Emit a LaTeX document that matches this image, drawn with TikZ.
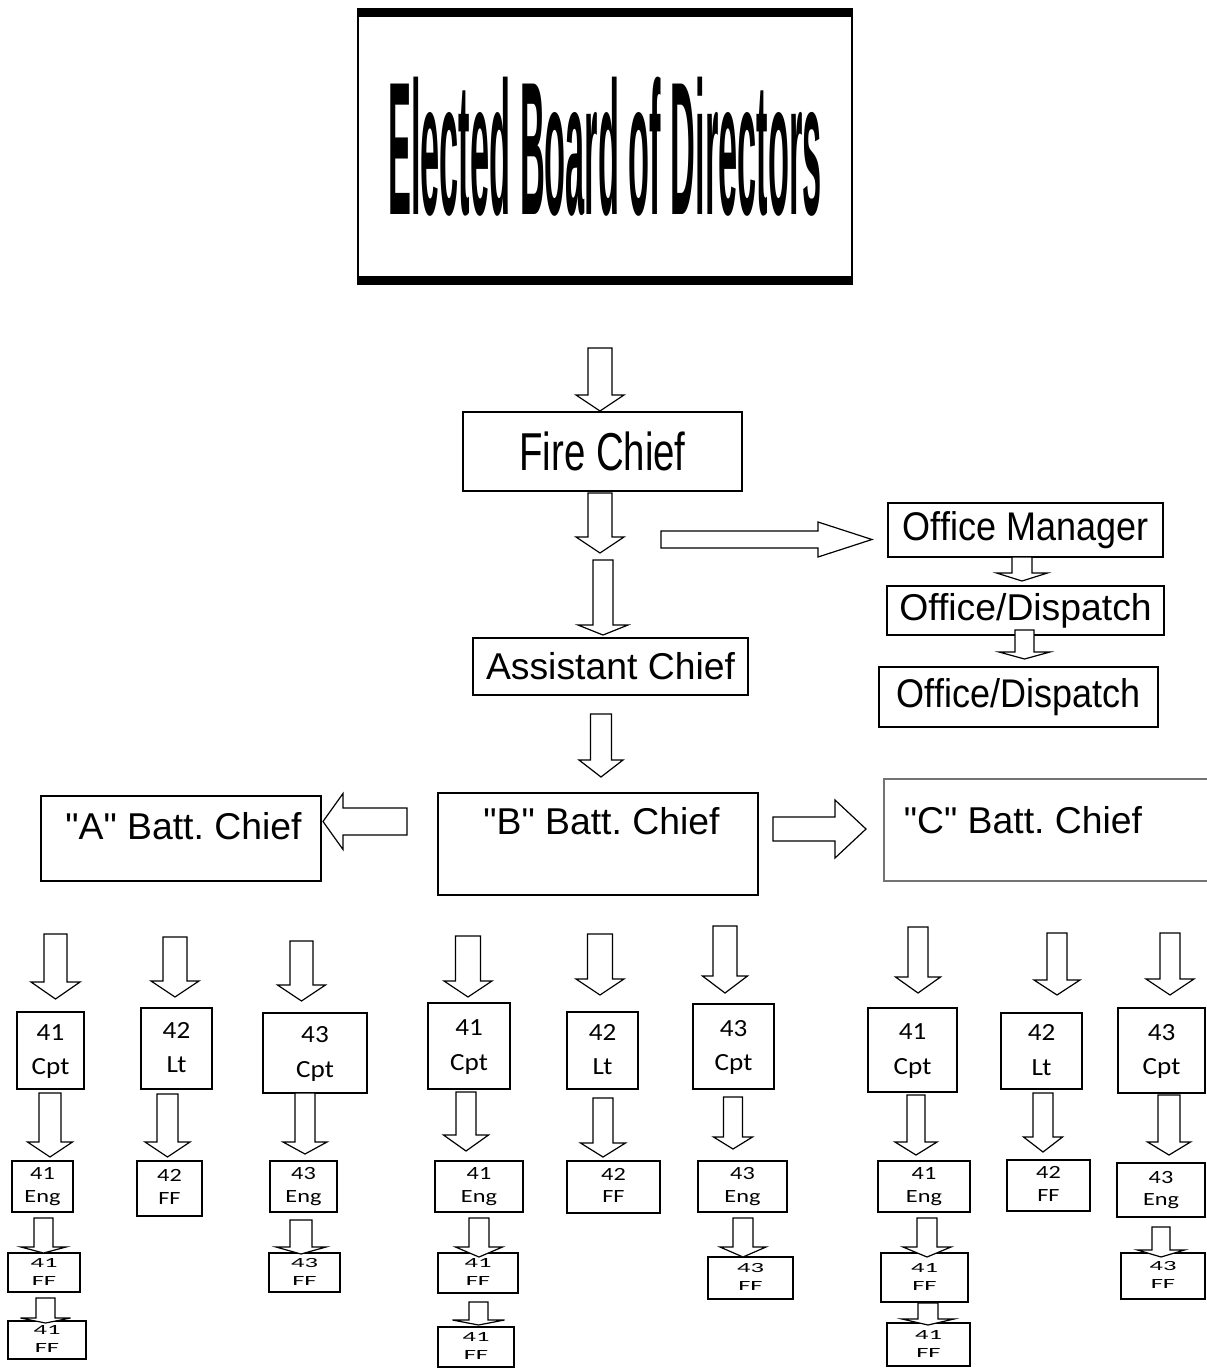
\documentclass[tikz,border=0pt]{standalone}
\usepackage{fontspec}
\usepackage{graphicx}
\setmainfont{Liberation Sans}[Ligatures=TeXOff]
\newfontfamily\carlito{Carlito}
\usetikzlibrary{calc}
\newcommand\px{0.75pt}
\newcommand\twoline[3]{\scalebox{#1}[1]{\begin{tabular}{@{}c@{}}#2\\#3\end{tabular}}}
\frenchspacing

\begin{document}
\begin{tikzpicture}[x=0.75pt, y=-0.75pt, line join=miter,
	box/.style={draw, line width=1.1pt, inner sep=0pt},
	blk/.style={draw, fill=white, line width=0.9pt},
	cpt/.style={box, font=\carlito\fontsize{18.5}{26}\selectfont},
	eng/.style={box, font=\carlito\fontsize{14}{17}\selectfont},
	ff/.style={box, font=\carlito\fontsize{10.5}{13.5}\selectfont},
	bc/.style={anchor=base, font=\fontsize{28}{34}\selectfont}]
	\useasboundingbox (0,0) rectangle (1207,1368);

	% board
	\node[box, line width=1pt, minimum width=494*\px, minimum height=275*\px] (board) at (605,146.5)
		{\resizebox{325pt}{103pt}{\bfseries Elected Board of Directors}};
	\fill (board.north west) rectangle ($(board.north east)+(0,9)$);
	\fill ($(board.south west)+(0,-9)$) rectangle (board.south east);

	% chiefs and office
	\node[box, minimum width=279*\px, minimum height=79*\px] (fire) at (602.5,451.5)
		{\scalebox{0.72}[1]{\fontsize{40}{48}\selectfont Fire Chief}};
	\node[box, minimum width=275*\px, minimum height=57*\px, font=\fontsize{28}{34}\selectfont] (asst) at (610.5,666.5) {Assistant Chief};
	\node[box, minimum width=275*\px, minimum height=54*\px] (om) at (1025.5,530)
		{\scalebox{0.9}[1]{\fontsize{30}{36}\selectfont Office Manager}};
	\node[box, minimum width=277*\px, minimum height=49*\px, font=\fontsize{28}{34}\selectfont] (od1) at (1025.5,610.5) {Office/Dispatch};
	\node[box, minimum width=279*\px, minimum height=60*\px] (od2) at (1018.5,697)
		{\scalebox{0.9}[1]{\fontsize{30}{36}\selectfont Office/Dispatch}};

	% battalion chiefs
	\node[box, minimum width=280*\px, minimum height=85*\px] (bcA) at (181,838.5) {};
	\node[box, minimum width=320*\px, minimum height=102*\px] (bcB) at (598,844) {};
	\node[box, draw=black!55, minimum width=331*\px, minimum height=102*\px] (bcC) at (1049.5,830) {};
	\node[bc] (bcAtext) at (183.5,839) {"A" Batt. Chief};
	\node[bc] (bcBtext) at (601.5,834) {"B" Batt. Chief};
	\node[bc] (bcCtext) at (1023,833) {"C" Batt. Chief};

	% companies
	\foreach \n/\x/\y/\w/\h/\a/\b in {A41cpt/50.5/1050.5/67/77/41/Cpt, A42lt/176.5/1048.5/71/81/42/Lt,
		A43cpt/315/1053/104/80/43/Cpt, B41cpt/469/1046/82/86/41/Cpt, B42lt/602.5/1050.5/71/77/42/Lt,
		B43cpt/733.5/1046.5/81/85/43/Cpt, C41cpt/912.5/1050/89/84/41/Cpt, C42lt/1041.5/1051/81/76/42/Lt,
		C43cpt/1161.5/1050.5/87/85/43/Cpt}
		\node[cpt, minimum width=\w*\px, minimum height=\h*\px] (\n) at (\x,\y) {\twoline{1.1}{\a}{\b}};
	\foreach \n/\x/\y/\w/\h/\a/\b in {A41eng/42.5/1186.5/61/51/41/Eng, A42ff/169.5/1188.5/65/55/42/FF,
		A43eng/303.5/1186.5/67/51/43/Eng, B41eng/479/1186.5/88/51/41/Eng, B42ff/613.5/1187/93/52/42/FF,
		B43eng/742.5/1186.5/89/51/43/Eng, C41eng/924/1186.5/92/51/41/Eng, C42ff/1048.5/1185.5/83/51/42/FF,
		C43eng/1161/1190/88/54/43/Eng}
		\node[eng, minimum width=\w*\px, minimum height=\h*\px] (\n) at (\x,\y) {\twoline{1.3}{\a}{\b}};
	\foreach \n/\x/\y/\w/\h/\a in {A41ff/44/1272.5/72/39/41, A43ff/304.5/1272.5/71/39/43, A41ffb/47/1340/78/38/41,
		B41ff/478/1273/80/40/41, B43ff/750.5/1278/85/42/43, B41ffb/476/1347/76/40/41,
		C41ff/924.5/1277.5/87/49/41, C43ff/1163/1276/84/46/43, C41ffb/928.5/1344.5/83/43/41}
		\node[ff, minimum width=\w*\px, minimum height=\h*\px] (\n) at (\x,\y) {\twoline{1.9}{\a}{FF}};

	% block arrows, down
	\foreach \x/\ya/\yb/\yc/\s/\h in {600/348/395/411/12/24, 600/493/537/553/12/24, 603/560/625/635/10/25,
		601/714/760/777/10.5/22, 1022/557/573/581/10/25.5, 1024.5/630/652/659/9.5/25.5,
		55.5/934/982/999/11.5/24.5, 175/937/981/997/12/24, 301.5/941/985/1001/11.5/24,
		50/1093/1142/1157/11/22.5, 167.5/1094/1142/1157/10.5/22.5, 305/1093/1142/1154/10/22,
		43.5/1218/1247/1253/9.5/22.5, 301/1220/1247/1254/11/25, 45.5/1298/1318/1323/9.5/25,
		468/936/981/997/12.5/24, 600/934/979/995/12.5/24, 725/926/976/993/12/22.5,
		466/1092/1135/1151/10/22.5, 603/1098/1143/1157/10/22.5, 733/1097/1137/1149/9.5/19.5,
		479/1218/1247/1257/10/23.5, 743/1218/1247/1257/10/23, 478.5/1302/1320/1325/9.5/26,
		918/927/977/993/10/22.5, 1057/933/980/995/10/23, 1170/933/979/995/10/24,
		916/1095/1142/1155/9/21, 1043/1093/1137/1152/10/19.5, 1169/1095/1142/1155/11/21.5,
		927/1218/1247/1257/10/24, 1161/1227/1250/1257/9/23.5, 928/1303/1319/1325/10/26}
		\draw[blk] (\x-\s,\ya) -- (\x+\s,\ya) -- (\x+\s,\yb) -- (\x+\h,\yb) -- (\x,\yc)
			-- (\x-\h,\yb) -- (\x-\s,\yb) -- cycle;

	% block arrows, sideways
	\foreach \y/\xa/\xb/\xc/\s/\h in {539.5/661/818/872/8.5/17.5, 821.5/407/343/323/13.5/28, 829/773/835/866/12/29}
		\draw[blk] (\xa,\y-\s) -- (\xb,\y-\s) -- (\xb,\y-\h) -- (\xc,\y) -- (\xb,\y+\h)
			-- (\xb,\y+\s) -- (\xa,\y+\s) -- cycle;
\end{tikzpicture}
\end{document}
